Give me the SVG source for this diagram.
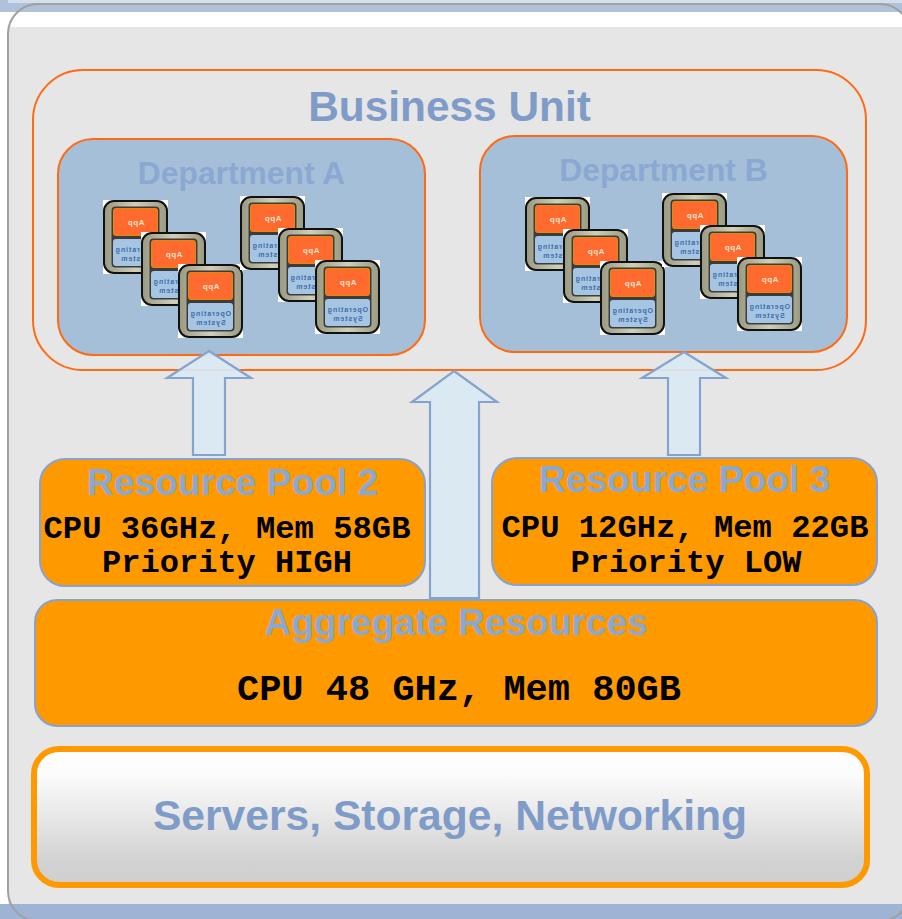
<svg xmlns="http://www.w3.org/2000/svg" width="902" height="919" viewBox="0 0 902 919">
<style>
.sans{font-family:"Liberation Sans",Arial,sans-serif;font-weight:bold;text-anchor:middle}
.mono{font-family:"Liberation Mono","Courier New",monospace;font-weight:bold;text-anchor:middle;fill:#000}
.t1{fill:#7f9cc9}
.t2{fill:#8ba8d2}
.pool{fill:#ff9900;stroke:#85a3cf;stroke-width:2}
.dept{fill:#a5bfd9;stroke:#ff6a13;stroke-width:2}
.arrow{fill:#d9e8f3;fill-opacity:.93;stroke:#85a3cf;stroke-width:2.2}
</style>
<defs>
<linearGradient id="metal" x1="0" y1="0" x2="1" y2="0">
<stop offset="0" stop-color="#9a9a82"/><stop offset=".5" stop-color="#cfcfba"/><stop offset="1" stop-color="#9a9a82"/>
</linearGradient>
<linearGradient id="srv" x1="0" y1="0" x2="0" y2="1">
<stop offset="0" stop-color="#ffffff"/><stop offset=".2" stop-color="#fbfbfb"/><stop offset=".8" stop-color="#d3d3d3"/><stop offset="1" stop-color="#cfcfcf"/>
</linearGradient>
<g id="vm">
<rect x="0" y="0" width="65" height="74" fill="#ffffff"/>
<rect x="1" y="1" width="63" height="72" rx="10" fill="url(#metal)" stroke="#111111" stroke-width="2"/>
<rect x="8.500" y="6.500" width="48" height="61" rx="4" fill="#3c3c3c"/>
<rect x="10.500" y="8.500" width="44" height="27" rx="2" fill="#ff6a2e" stroke="#e68a00" stroke-width="1"/>
<rect x="10" y="39" width="45" height="27" rx="3" fill="#a5c5e3"/>
<text class="sans" transform="translate(33,24.500) scale(-1,1)" font-size="8" fill="#ffe0cf" letter-spacing=".5">App</text>
<text class="sans" transform="translate(32.500,52) scale(-1,1)" font-size="7" fill="#3f6ea8" letter-spacing=".9">Operating</text>
<text class="sans" transform="translate(32.500,61) scale(-1,1)" font-size="7" fill="#3f6ea8" letter-spacing=".9">System</text>
</g>
</defs>

<g id="background">
<rect x="0" y="0" width="902" height="919" fill="#ffffff"/>
<rect x="0" y="0" width="902" height="12" fill="#b0c2da"/>
<rect x="8" y="0" width="894" height="3" fill="#d4deec"/>
<rect x="8" y="27" width="894" height="878" fill="#e6e6e6"/>
<rect x="0" y="904" width="902" height="15" fill="#9fb4d4"/>
<rect x="8" y="4" width="902" height="917" rx="30" fill="none" stroke="#a0a0a0" stroke-width="2"/>
</g>

<g id="business-unit">
<rect x="33" y="70" width="833" height="300" rx="50" fill="none" stroke="#ff6a13" stroke-width="2"/>
<text class="sans t1" x="449.500" y="121" font-size="42.400">Business Unit</text>
</g>

<g id="department-a">
<rect class="dept" x="58" y="139" width="367" height="216" rx="35"/>
<text class="sans t2" x="241.500" y="184" font-size="31.800">Department A</text>
<use href="#vm" x="103" y="200"/><use href="#vm" x="141" y="232"/><use href="#vm" x="178" y="264"/>
<use href="#vm" x="240" y="196"/><use href="#vm" x="278" y="228"/><use href="#vm" x="315" y="260"/>
</g>

<g id="department-b">
<rect class="dept" x="480" y="136" width="367" height="216" rx="35"/>
<text class="sans t2" x="663.500" y="181" font-size="31.800">Department B</text>
<use href="#vm" x="525" y="197"/><use href="#vm" x="563" y="229"/><use href="#vm" x="600" y="261"/>
<use href="#vm" x="662" y="193"/><use href="#vm" x="700" y="225"/><use href="#vm" x="737" y="257"/>
</g>

<g id="connectors">
<path class="arrow" d="M209 351L251 378H225V455H193V378H167Z"/>
<path class="arrow" d="M684 352L726 378H700V455H668V378H642Z"/>
<path class="arrow" d="M454 371L497 402H479V598H430V402H412Z"/>
</g>

<g id="resource-pool-2">
<rect class="pool" x="40" y="459" width="385" height="127" rx="25"/>
<text class="sans t2" x="232.500" y="495" font-size="37.200">Resource Pool 2</text>
<text class="mono" x="227" y="538" font-size="32" textLength="367" lengthAdjust="spacingAndGlyphs">CPU 36GHz, Mem 58GB</text>
<text class="mono" x="227" y="572" font-size="32" textLength="250" lengthAdjust="spacingAndGlyphs">Priority HIGH</text>
</g>

<g id="resource-pool-3">
<rect class="pool" x="492" y="458" width="385" height="127" rx="25"/>
<text class="sans t2" x="684.500" y="492" font-size="37.200">Resource Pool 3</text>
<text class="mono" x="685" y="537" font-size="32" textLength="367" lengthAdjust="spacingAndGlyphs">CPU 12GHz, Mem 22GB</text>
<text class="mono" x="686" y="572" font-size="32" textLength="231" lengthAdjust="spacingAndGlyphs">Priority LOW</text>
</g>

<g id="aggregate-resources">
<rect class="pool" x="35" y="600" width="842" height="126" rx="22"/>
<text class="sans t2" x="456" y="635" font-size="37.100">Aggregate Resources</text>
<text class="mono" x="459" y="700" font-size="37">CPU 48 GHz, Mem 80GB</text>
</g>

<g id="servers">
<rect x="34" y="749" width="833" height="136" rx="25" fill="url(#srv)" stroke="#ff9900" stroke-width="6"/>
<text class="sans t1" x="450" y="830" font-size="42.600">Servers, Storage, Networking</text>
</g>
</svg>
